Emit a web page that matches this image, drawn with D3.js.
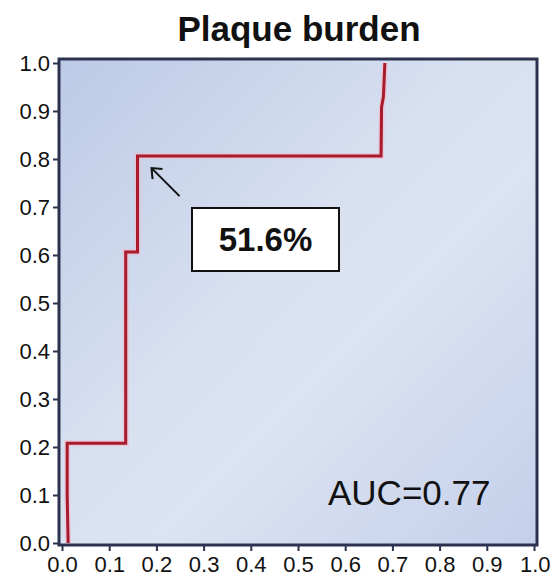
<!DOCTYPE html>
<html>
<head>
<meta charset="utf-8">
<script src="https://cdn.jsdelivr.net/npm/d3@7"></script>
<style>
  html, body { margin: 0; padding: 0; background: #ffffff; }
  svg { display: block; }
  text { font-family: "Liberation Sans", Arial, Helvetica, sans-serif; fill: #111; }
</style>
</head>
<body>
<svg id="chart" width="553" height="579"></svg>
<script>
// ROC curve for plaque burden: false positive rate vs. sensitivity
const fpr = [0.013, 0.011, 0.011, 0.135, 0.135, 0.160, 0.160, 0.676, 0.677, 0.681, 0.684];
const tpr = [0.000, 0.100, 0.208, 0.208, 0.606, 0.606, 0.806, 0.806, 0.908, 0.930, 1.000];
const xTicks = [0, 0.1, 0.2, 0.3, 0.4, 0.5, 0.6, 0.7, 0.8, 0.9, 1.0];
const yTicks = [0, 0.1, 0.2, 0.3, 0.4, 0.5, 0.6, 0.7, 0.8, 0.9, 1.0];
const cutoffLabel = "51.6%";
const cutoffPoint = [0.160, 0.806];
const aucLabel = "AUC=0.77";
const title = "Plaque burden";

const svg = d3.select("#chart");
const x = d3.scaleLinear().domain([0, 1]).range([62, 534]);
const y = d3.scaleLinear().domain([0, 1]).range([543, 63]);

// background gradient of the plotting panel
const defs = svg.append("defs");
const grad = defs.append("linearGradient").attr("id", "panelBg")
  .attr("x1", "0%").attr("y1", "0%").attr("x2", "100%").attr("y2", "100%");
grad.append("stop").attr("offset", "0%").attr("stop-color", "#bccae6");
grad.append("stop").attr("offset", "45%").attr("stop-color", "#d9e1f1");
grad.append("stop").attr("offset", "60%").attr("stop-color", "#dce3f2");
grad.append("stop").attr("offset", "100%").attr("stop-color", "#c3cfea");

const x0 = x(0) - 3, x1 = x(1) + 3, yTop = y(1) - 4, yBot = y(0) + 2;
svg.append("rect")
  .attr("x", x0).attr("y", yTop)
  .attr("width", x1 - x0).attr("height", yBot - yTop)
  .attr("fill", "url(#panelBg)");

// axes (ticks only, labels styled below)
const xAxis = svg.append("g").attr("transform", `translate(0,${yBot})`)
  .call(d3.axisBottom(x).tickValues(xTicks).tickFormat(d3.format(".1f")).tickSize(6).tickPadding(5));
const yAxis = svg.append("g").attr("transform", `translate(${x0},0)`)
  .call(d3.axisLeft(y).tickValues(yTicks).tickFormat(d3.format(".1f")).tickSize(6).tickPadding(3));
[xAxis, yAxis].forEach(g => {
  g.select(".domain").remove();
  g.selectAll(".tick line").attr("stroke", "#2b3350").attr("stroke-width", 2);
  g.selectAll(".tick text").attr("font-size", 22).attr("fill", "#111")
    .attr("font-family", "'Liberation Sans', Arial, sans-serif");
});
xAxis.selectAll(".tick text").attr("dy", "0.71em");
// keep the last x label inside the canvas
xAxis.selectAll(".tick text").filter(d => d === 1).attr("text-anchor", "end").attr("dx", 16);

// panel frame
svg.append("rect")
  .attr("x", x0).attr("y", yTop)
  .attr("width", x1 - x0).attr("height", yBot - yTop)
  .attr("fill", "none").attr("stroke", "#2b3350").attr("stroke-width", 3);

// ROC step curve
const pts = fpr.map((f, i) => [f, tpr[i]]);
const line = d3.line().x(d => x(d[0])).y(d => y(d[1]));
svg.append("path").datum(pts).attr("d", line)
  .attr("fill", "none").attr("stroke", "#f4b9c6").attr("stroke-width", 6)
  .attr("stroke-linejoin", "miter").attr("opacity", 0.6);
svg.append("path").datum(pts).attr("d", line)
  .attr("fill", "none").attr("stroke", "#a81a2c").attr("stroke-width", 3)
  .attr("stroke-linejoin", "miter");

// arrow to the chosen cut-off
const tipX = x(cutoffPoint[0]) + 14, tipY = y(cutoffPoint[1]) + 12;
const tailX = tipX + 28, tailY = tipY + 28;
svg.append("line").attr("x1", tailX).attr("y1", tailY).attr("x2", tipX).attr("y2", tipY)
  .attr("stroke", "#111").attr("stroke-width", 2);
svg.append("path")
  .attr("d", `M${tipX + 11},${tipY + 1} L${tipX},${tipY} L${tipX + 1},${tipY + 11}`)
  .attr("fill", "none").attr("stroke", "#111").attr("stroke-width", 2);

// cut-off label box
const bx = 192, by = 208, bw = 147, bh = 63;
svg.append("rect").attr("x", bx).attr("y", by).attr("width", bw).attr("height", bh)
  .attr("fill", "#ffffff").attr("stroke", "#111").attr("stroke-width", 2);
svg.append("text").attr("x", bx + bw / 2).attr("y", by + bh / 2 + 11)
  .attr("text-anchor", "middle").attr("font-size", 33).attr("font-weight", "bold")
  .text(cutoffLabel);

// AUC annotation
svg.append("text").attr("x", 328).attr("y", 505)
  .attr("font-size", 35).text(aucLabel);

// title
svg.append("text").attr("x", 299).attr("y", 41)
  .attr("text-anchor", "middle").attr("font-size", 35).attr("font-weight", "bold")
  .text(title);
</script>
</body>
</html>
